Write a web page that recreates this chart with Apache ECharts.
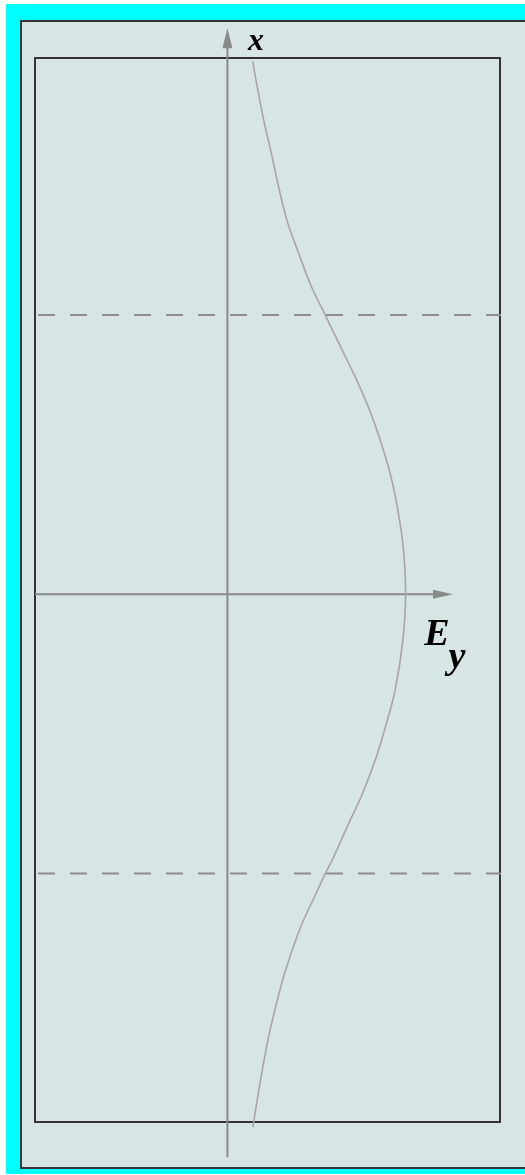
<!DOCTYPE html>
<html>
<head>
<meta charset="utf-8">
<script src="https://cdn.jsdelivr.net/npm/echarts@6/dist/echarts.min.js"></script>
<style>
  html, body { margin: 0; padding: 0; background: #ffffff; }
  #band { position: absolute; left: 6px; top: 4px; width: 519px; height: 1170px; background: #00ffff; }
  #frame { position: absolute; left: 20px; top: 20px; width: 600px; height: 1145px;
           border: 2px solid #333; background: #d7e5e5; }
  #chart { position: absolute; left: 0; top: 0; width: 525px; height: 1175px; }
</style>
</head>
<body>
<div id="band"></div>
<div id="frame"></div>
<div id="chart"></div>
<script>
// Transverse position across the slab (core edges at ±1), top to bottom
const positionX = [
  1.908, 1.815, 1.694, 1.575, 1.457, 1.335, 1.217, 1.099, 1.005,
  0.901, 0.780, 0.661, 0.543, 0.421, 0.303, 0.185, 0.063, 0.000,
  -0.163, -0.342, -0.461, -0.582, -0.711, -0.833, -0.952, -0.995,
  -1.070, -1.192, -1.346, -1.464, -1.586, -1.704, -1.823, -1.908
];
// Field amplitude E_y at each position (normalised to the peak)
const fieldEy = [
  0.142, 0.168, 0.205, 0.248, 0.288, 0.336, 0.402, 0.473, 0.545,
  0.624, 0.716, 0.797, 0.862, 0.918, 0.956, 0.984, 0.998, 1.000,
  0.985, 0.942, 0.893, 0.836, 0.760, 0.672, 0.588, 0.553,
  0.499, 0.411, 0.327, 0.276, 0.231, 0.196, 0.164, 0.143
];
// Core/cladding boundaries
const coreEdges = [1, -1];

const AXIS_GREY = '#8a8a8a';
const chart = echarts.init(document.getElementById('chart'), null, { renderer: 'canvas' });

const curve = positionX.map((z, i) => [fieldEy[i], z]);

const boundarySeries = coreEdges.map(z => ({
  type: 'line',
  clip: false,
  silent: true,
  symbol: 'none',
  z: 3,
  lineStyle: { color: '#8c8c8c', width: 2, type: [17, 15] },
  data: [[-1.063, z], [1.68, z]]
}));

const option = {
  animation: false,
  backgroundColor: 'transparent',
  grid: {
    left: 35, top: 58, right: 25, bottom: 53,
    show: true, borderColor: '#333', borderWidth: 2, backgroundColor: 'transparent'
  },
  xAxis: { type: 'value', min: -1.08, max: 1.53, show: false },
  yAxis: { type: 'value', min: -1.89, max: 1.92, show: false },
  series: [
    ...boundarySeries,
    {
      // vertical (x) axis with arrowhead
      type: 'line', clip: false, silent: true, z: 4,
      lineStyle: { color: AXIS_GREY, width: 2 },
      itemStyle: { color: AXIS_GREY },
      data: [
        { value: [0, -2.016], symbol: 'none' },
        { value: [0, 1.991], symbol: 'triangle', symbolSize: [10, 20] }
      ]
    },
    {
      // horizontal (E_y) axis with arrowhead
      type: 'line', clip: false, silent: true, z: 4,
      lineStyle: { color: AXIS_GREY, width: 2 },
      itemStyle: { color: AXIS_GREY },
      data: [
        { value: [-1.08, 0], symbol: 'none' },
        { value: [1.21, 0], symbol: 'triangle', symbolSize: [9, 20], symbolRotate: -90 }
      ]
    },
    {
      type: 'line', clip: false, silent: true, z: 5,
      smooth: 0.4, symbol: 'none',
      lineStyle: { color: '#a6a6a6', width: 1.6 },
      data: curve
    }
  ],
  graphic: [
    { type: 'text', x: 256, y: 42, silent: true,
      style: { text: 'x', font: 'italic bold 32px "Liberation Serif"', fill: '#000',
               align: 'center', verticalAlign: 'middle' } },
    { type: 'text', x: 437, y: 635, silent: true,
      style: { text: 'E', font: 'italic bold 38px "Liberation Serif"', fill: '#000',
               align: 'center', verticalAlign: 'middle' } },
    { type: 'text', x: 457, y: 658, silent: true,
      style: { text: 'y', font: 'italic bold 38px "Liberation Serif"', fill: '#000',
               align: 'center', verticalAlign: 'middle' } }
  ]
};
chart.setOption(option);
</script>
</body>
</html>
